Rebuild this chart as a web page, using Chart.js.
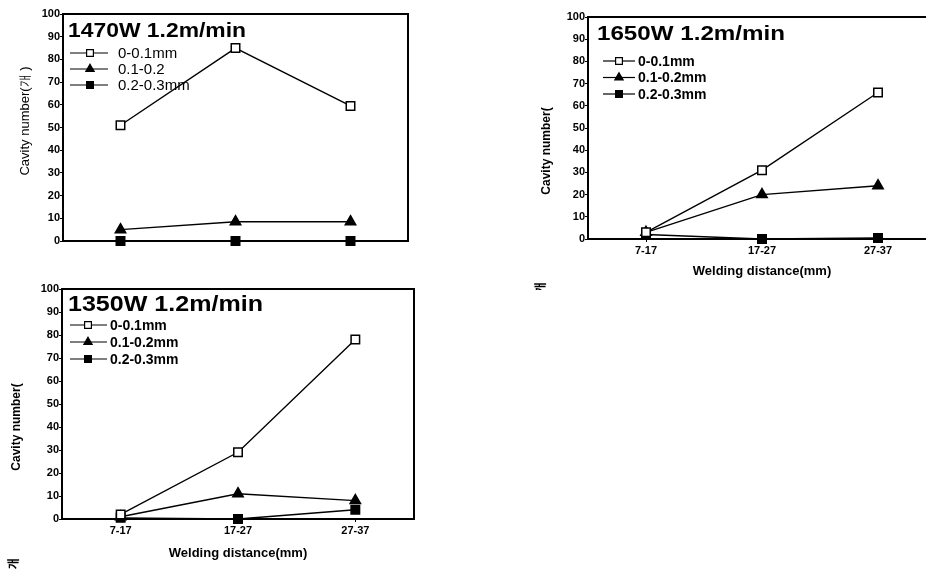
<!DOCTYPE html>
<html>
<head>
<meta charset="utf-8">
<script src="https://cdn.jsdelivr.net/npm/chart.js@4/dist/chart.umd.min.js"></script>
<style>
  html, body { margin: 0; padding: 0; background: #fff; overflow: hidden; width: 926px; height: 581px; }
  canvas { position: absolute; }
  #c1 { left: 0; top: 0; }
  #c2 { left: 520px; top: 0; }
  #c3 { left: 0; top: 270px; }
</style>
</head>
<body>
<canvas id="c1" width="420" height="260"></canvas>
<canvas id="c2" width="430" height="290"></canvas>
<canvas id="c3" width="426" height="300"></canvas>
<script>
// categories (welding distance)
const categories = ['7-17', '17-27', '27-37'];

// 1470W panel
const p1Fine = [51, 85, 59.5];
const p1Mid = [5, 8.5, 8.5];
const p1Coarse = [0, 0, 0];
const p1Labels = ['0-0.1mm', '0.1-0.2', '0.2-0.3mm'];

// 1650W panel
const p2Fine = [3, 31, 66];
const p2Mid = [3, 20, 24];
const p2Coarse = [2, 0, 0.5];
const p2Labels = ['0-0.1mm', '0.1-0.2mm', '0.2-0.3mm'];

// 1350W panel
const p3Fine = [2, 29, 78];
const p3Mid = [1, 11, 8];
const p3Coarse = [0.5, 0, 4];
const p3Labels = ['0-0.1mm', '0.1-0.2mm', '0.2-0.3mm'];

const FONT = '"Liberation Sans", Arial, sans-serif';

// draws the box, the panel title, the legend and the y title
const decoPlugin = {
    id: 'deco',
    afterDatasetsDraw(chart, args, o) {
        const ctx = chart.ctx;
        const a = chart.chartArea;
        ctx.save();
        // frame top + right
        ctx.strokeStyle = '#000';
        ctx.lineWidth = 2;
        ctx.beginPath();
        ctx.moveTo(a.left, a.top);
        ctx.lineTo(a.right, a.top);
        ctx.lineTo(a.right, a.bottom);
        ctx.stroke();

        // panel title (the scan font is wide, so stretch it a bit)
        ctx.fillStyle = '#000';
        ctx.font = 'bold ' + o.titleSize + 'px ' + FONT;
        ctx.textBaseline = 'middle';
        ctx.textAlign = 'left';
        const w = ctx.measureText(o.title).width;
        ctx.save();
        ctx.translate(a.left + o.titleX, a.top + o.titleY);
        ctx.scale(o.titleWidth / w, 1);
        ctx.fillText(o.title, 0, 0);
        ctx.restore();

        // legend
        ctx.font = o.legendFont + FONT;
        chart.data.datasets.forEach(function (ds, i) {
            const y = a.top + o.legendY + i * o.legendGap;
            ctx.strokeStyle = '#000';
            ctx.lineWidth = 1.2;
            ctx.beginPath();
            ctx.moveTo(a.left + o.legendX0, y);
            ctx.lineTo(a.left + o.legendX1, y);
            ctx.stroke();
            ctx.fillStyle = ds.pointBackgroundColor;
            ctx.lineWidth = 1.2;
            Chart.helpers.drawPoint(ctx, { pointStyle: ds.pointStyle, radius: 4.8, rotation: 0, borderWidth: 1.2 },
                a.left + o.legendMark, y);
            ctx.fillStyle = '#000';
            ctx.fillText(ds.label, a.left + o.legendText, y + 1);
        });

        // y axis title
        ctx.translate(o.yTitleX, o.yTitleY);
        ctx.rotate(-Math.PI / 2);
        ctx.textAlign = 'center';
        ctx.font = o.yTitleFont + FONT;
        ctx.fillText(o.yTitle, 0, 0);
        ctx.restore();

        // stray glyphs left over from the scan
        if (o.stray) {
            ctx.save();
            ctx.translate(o.stray.x, o.stray.y);
            ctx.rotate(-Math.PI / 2);
            ctx.font = 'bold 12px "Noto Sans CJK KR", ' + FONT;
            ctx.textAlign = 'center';
            ctx.textBaseline = 'middle';
            ctx.fillStyle = '#000';
            ctx.fillText(o.stray.text, 0, 0);
            ctx.restore();
        }
    }
};

function series(label, data, style, fill) {
    return {
        label: label,
        data: data,
        borderColor: '#000',
        borderWidth: 1.4,
        pointStyle: style,
        pointRadius: 6,
        pointBorderWidth: 1.5,
        pointBorderColor: '#000',
        pointBackgroundColor: fill,
        tension: 0,
        clip: false
    };
}

function makePanel(id, fine, mid, coarse, labels, p) {
    const ctx = document.getElementById(id);
    return new Chart(ctx, {
        type: 'line',
        data: {
            labels: categories,
            datasets: [
                series(labels[0], fine, 'rect', '#fff'),
                series(labels[1], mid, 'triangle', '#000'),
                series(labels[2], coarse, 'rect', '#000')
            ]
        },
        options: {
            responsive: false,
            animation: false,
            layout: { padding: { left: 0, top: p.padTop, right: p.padRight, bottom: 0 } },
            plugins: {
                legend: { display: false },
                tooltip: { enabled: false },
                deco: p.deco
            },
            scales: {
                x: {
                    type: 'category',
                    offset: true,
                    afterFit: function (s) { s.height = p.xHeight; },
                    grid: { offset: false, drawOnChartArea: false, drawTicks: true, tickLength: 3, color: '#000' },
                    border: { color: '#000', width: 2 },
                    ticks: { display: p.xTicks, color: '#000', padding: 2, font: { family: FONT, size: 11, weight: 'bold' } },
                    title: {
                        display: p.xTicks,
                        text: 'Welding distance(mm)',
                        color: '#000',
                        font: { family: FONT, size: 13, weight: 'bold' },
                        padding: { top: 0, bottom: p.xTitlePad }
                    }
                },
                y: {
                    min: 0,
                    max: 100,
                    afterFit: function (s) { s.width = p.yWidth; },
                    grid: { drawOnChartArea: false, drawTicks: true, tickLength: 3, color: '#000' },
                    border: { color: '#000', width: 2 },
                    ticks: { stepSize: 10, color: '#000', padding: 0, font: { family: FONT, size: 11, weight: 'bold' } }
                }
            }
        },
        plugins: [decoPlugin]
    });
}

makePanel('c1', p1Fine, p1Mid, p1Coarse, p1Labels, {
    padTop: 14, padRight: 12, xHeight: 19, yWidth: 63, xTicks: false, xTitlePad: 0,
    deco: {
        title: '1470W 1.2m/min', titleSize: 20, titleWidth: 178, titleX: 5, titleY: 17,
        legendFont: '15px ', legendX0: 7, legendX1: 45, legendMark: 27, legendText: 55, legendY: 39, legendGap: 16,
        yTitle: 'Cavity number(개 )', yTitleFont: '13px ', yTitleX: 25, yTitleY: 121
    }
});

makePanel('c2', p2Fine, p2Mid, p2Coarse, p2Labels, {
    padTop: 17, padRight: 14, xHeight: 51, yWidth: 68, xTicks: true, xTitlePad: 11,
    deco: {
        title: '1650W 1.2m/min', titleSize: 21, titleWidth: 188, titleX: 9, titleY: 17,
        legendFont: 'bold 14px ', legendX0: 15, legendX1: 47, legendMark: 31, legendText: 50, legendY: 44, legendGap: 16.5,
        yTitle: 'Cavity number(', yTitleFont: 'bold 12px ', yTitleX: 27, yTitleY: 151,
        stray: { text: ')개', x: 20, y: 290 }
    }
});

makePanel('c3', p3Fine, p3Mid, p3Coarse, p3Labels, {
    padTop: 19, padRight: 12, xHeight: 51, yWidth: 62, xTicks: true, xTitlePad: 9,
    deco: {
        title: '1350W 1.2m/min', titleSize: 22, titleWidth: 195, titleX: 6, titleY: 16,
        legendFont: 'bold 14px ', legendX0: 8, legendX1: 45, legendMark: 26, legendText: 48, legendY: 36, legendGap: 17,
        yTitle: 'Cavity number(', yTitleFont: 'bold 12px ', yTitleX: 17, yTitleY: 157,
        stray: { text: ')개', x: 13, y: 296 }
    }
});
</script>
</body>
</html>
